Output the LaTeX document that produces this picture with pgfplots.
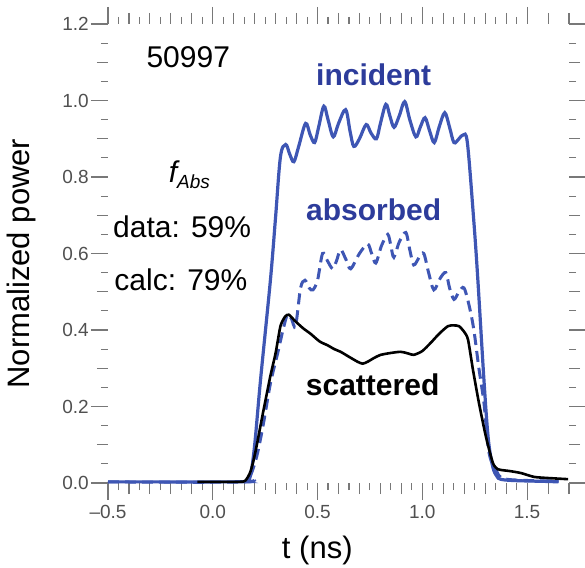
\documentclass[border=0pt]{standalone}
\usepackage{pgfplots}
\pgfplotsset{compat=1.18}
\usepackage{fontspec}
\setmainfont{Liberation Sans}
\definecolor{lineblue}{RGB}{62,86,180}
\definecolor{textblue}{RGB}{45,60,155}
\definecolor{tickgrey}{RGB}{120,120,120}
\definecolor{labelgrey}{RGB}{80,80,80}
\begin{document}
\begin{tikzpicture}
\useasboundingbox (-108pt,-84pt) rectangle (477pt,483pt);
\begin{axis}[
  at={(0,0)}, anchor=south west,
  scale only axis, width=461pt, height=459pt,
  xmin=-0.5, xmax=1.7, ymin=0, ymax=1.2,
  clip=false,
  axis line style={draw=none},
  tick pos=both, tick align=outside,
  major tick length=17pt, minor tick length=7pt,
  every tick/.style={tickgrey, line width=1.1pt},
  xtick={-0.5,0,0.5,1,1.5},
  xticklabels={--0.5,0.0,0.5,1.0,1.5},
  minor x tick num=9,
  ytick={0,0.2,0.4,0.6,0.8,1.0,1.2},
  yticklabels={0.0,0.2,0.4,0.6,0.8,1.0,1.2},
  minor y tick num=3,
  extra x ticks={-0.4,-0.3,-0.2,-0.1,0.1,0.2,0.3,0.4,0.6,0.7,0.8,0.9,1.1,1.2,1.3,1.4,1.6,1.7},
  extra x tick labels={},
  extra x tick style={major tick length=11pt},
  extra y ticks={0.1,0.3,0.5,0.7,0.9,1.1},
  extra y tick labels={},
  extra y tick style={major tick length=11pt},
  tick label style={font=\fontsize{19}{19}\selectfont, text=labelgrey},
  yticklabel style={inner sep=2pt},
  xticklabel style={inner sep=5pt},
  xlabel={t (ns)},
  ylabel={Normalized power},
  label style={font=\fontsize{31}{31}\selectfont},
  xlabel style={at={(axis description cs:0.454,-0.146)}, anchor=center},
  ylabel style={at={(axis description cs:-0.187,0.478)}, anchor=center},
]
\addplot[lineblue, line width=3.2pt, smooth, tension=0.55] coordinates {
(-0.5,0.003) (0.10,0.003) (0.16,0.005) (0.18,0.02) (0.20,0.10) (0.228,0.27)
(0.275,0.53) (0.299,0.69) (0.323,0.853) (0.348,0.885) (0.367,0.86) (0.387,0.84)
(0.41,0.88) (0.443,0.94) (0.465,0.91) (0.486,0.89) (0.505,0.93) (0.530,0.985)
(0.55,0.95) (0.575,0.905) (0.60,0.94) (0.634,0.976) (0.655,0.92) (0.673,0.88)
(0.70,0.90) (0.732,0.937) (0.755,0.915) (0.781,0.90) (0.80,0.94) (0.826,0.99)
(0.845,0.96) (0.865,0.93) (0.89,0.96) (0.916,0.997) (0.94,0.95) (0.969,0.905)
(0.99,0.93) (1.013,0.955) (1.035,0.92) (1.057,0.89) (1.08,0.93) (1.107,0.968)
(1.13,0.93) (1.151,0.89) (1.175,0.90) (1.195,0.91) (1.215,0.89) (1.245,0.69)
(1.264,0.54) (1.294,0.27) (1.314,0.12) (1.333,0.05) (1.353,0.02) (1.393,0.008)
(1.6,0.004) (1.65,0.003)
};
\addplot[lineblue, line width=3pt, dash pattern=on 11pt off 6pt, smooth, tension=0.5] coordinates {
(-0.5,0.003) (0.15,0.003) (0.18,0.02) (0.21,0.07) (0.24,0.15) (0.275,0.26)
(0.31,0.34) (0.335,0.40) (0.356,0.44) (0.375,0.43) (0.395,0.41) (0.419,0.51)
(0.44,0.53) (0.46,0.51) (0.478,0.505) (0.50,0.53) (0.524,0.60) (0.548,0.58)
(0.572,0.56) (0.59,0.58) (0.61,0.61) (0.635,0.585) (0.658,0.56) (0.70,0.60)
(0.739,0.625) (0.758,0.60) (0.778,0.575) (0.805,0.62) (0.835,0.65) (0.85,0.62)
(0.864,0.59) (0.89,0.63) (0.921,0.655) (0.94,0.61) (0.959,0.57) (0.985,0.59)
(1.007,0.60) (1.03,0.55) (1.055,0.505) (1.085,0.535) (1.112,0.55) (1.13,0.51)
(1.151,0.48) (1.175,0.50) (1.199,0.51) (1.225,0.46) (1.246,0.40) (1.27,0.30)
(1.294,0.21) (1.318,0.08) (1.352,0.034) (1.40,0.01) (1.65,0.005)
};
\addplot[black, line width=2.6pt, smooth, tension=0.4] coordinates {
(-0.074,0.003) (0.12,0.003) (0.155,0.006) (0.18,0.03) (0.203,0.08) (0.242,0.19)
(0.275,0.28) (0.30,0.34) (0.323,0.41) (0.345,0.435) (0.363,0.44) (0.39,0.425)
(0.43,0.405) (0.467,0.39) (0.51,0.37) (0.548,0.36) (0.58,0.35) (0.61,0.343)
(0.65,0.33) (0.691,0.317) (0.715,0.312) (0.739,0.317) (0.77,0.327) (0.801,0.335)
(0.85,0.34) (0.897,0.343) (0.93,0.339) (0.959,0.335) (1.00,0.345) (1.041,0.367)
(1.08,0.39) (1.122,0.41) (1.15,0.412) (1.175,0.41) (1.20,0.395) (1.218,0.375)
(1.242,0.295) (1.27,0.21) (1.304,0.12) (1.337,0.052) (1.36,0.036) (1.376,0.034)
(1.42,0.031) (1.471,0.026) (1.533,0.016) (1.60,0.013) (1.696,0.01)
};
\node[font=\fontsize{30}{30}\selectfont] at (axis cs:-0.117,1.114) {50997};
\node[font=\fontsize{30}{30}\selectfont\itshape] at (axis cs:-0.112,0.805) {f\raisebox{-6pt}{\fontsize{19}{19}\selectfont Abs}};
\node[font=\fontsize{30}{30}\selectfont] at (axis cs:-0.146,0.669) {data: 59\%};
\node[font=\fontsize{30}{30}\selectfont] at (axis cs:-0.152,0.531) {calc: 79\%};
\node[font=\fontsize{30}{30}\selectfont\bfseries, text=textblue] at (axis cs:0.768,1.067) {incident};
\node[font=\fontsize{30}{30}\selectfont\bfseries, text=textblue] at (axis cs:0.768,0.714) {absorbed};
\node[font=\fontsize{30}{30}\selectfont\bfseries] at (axis cs:0.763,0.256) {scattered};
\end{axis}
\end{tikzpicture}
\end{document}
